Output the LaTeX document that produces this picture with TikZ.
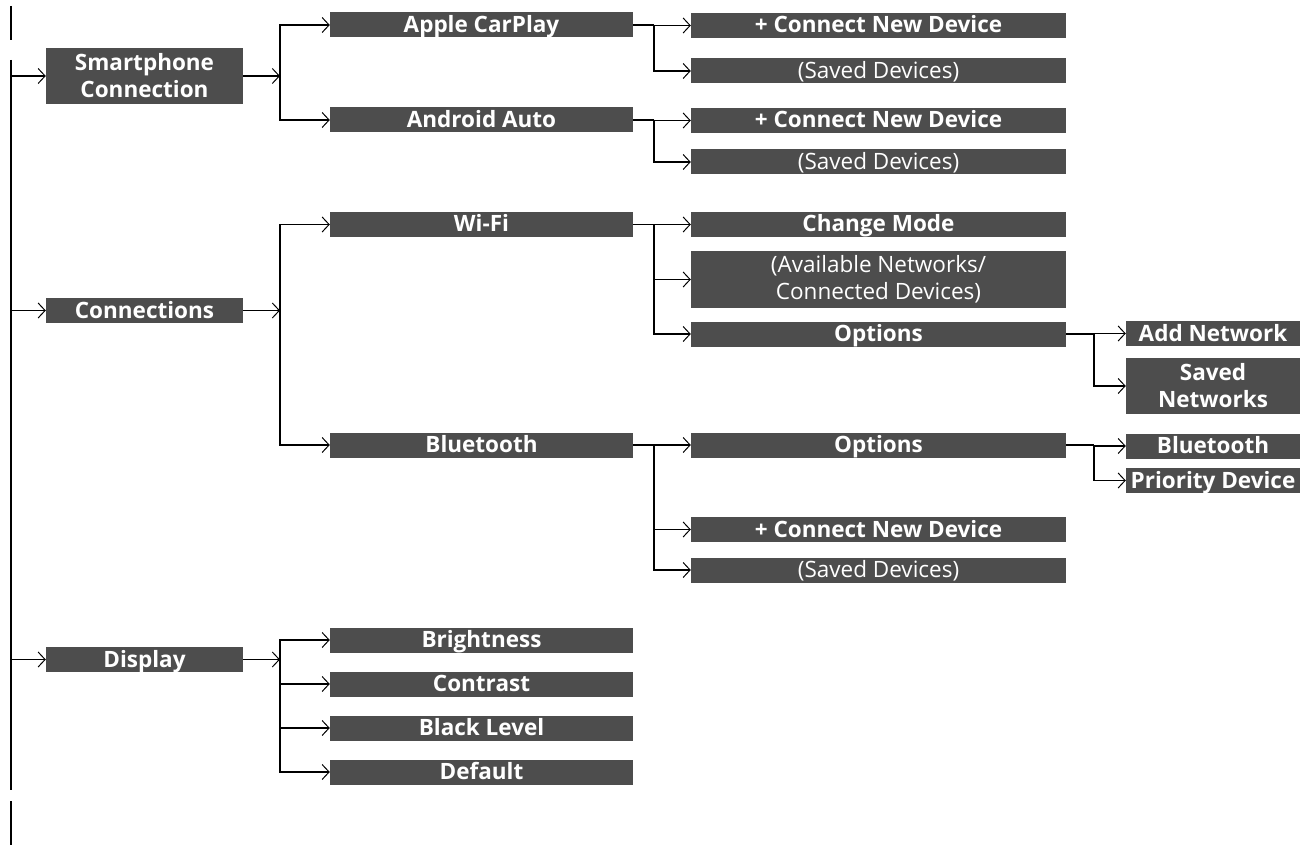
\documentclass[tikz,border=0pt]{standalone}
\usepackage{fontspec}
\setmainfont{Open Sans}
\usepackage{tikz}
\usetikzlibrary{arrows.meta, positioning, calc}

\definecolor{menugray}{RGB}{77,77,77}
\tikzset{
  menu/.style={fill=menugray, text=white, font=\fontsize{22.5}{27}\selectfont\bfseries,
    inner sep=0pt, minimum height=25, align=center, text height=15, text depth=0},
  twoline/.style={text height=, text depth=},
  lvlA/.style={menu, minimum width=197},
  lvlB/.style={menu, minimum width=303},
  lvlC/.style={menu, minimum width=375},
  lvlD/.style={menu, minimum width=174},
  plain/.style={font=\fontsize{22.5}{27}\selectfont\mdseries},
  link/.style={line width=1.4, -{Straight Barb[length=7,width=15,line width=1]}},
  edge/.style={line width=1.4}
}

\begin{document}
\begin{tikzpicture}[x=1pt, y=-1pt]
  \useasboundingbox (0,0) rectangle (1307,845);

  % page edge / spine
  \coordinate (spine) at (11,0);
  \draw[edge] (11,6) -- (11,40);
  \draw[edge] (11,60) -- (11,790);
  \draw[edge] (11,801) -- (11,845);

  % first level
  \node[lvlA, twoline, minimum height=56] (phone) at (144.5,76) {Smartphone\\Connection};
  \node[lvlA] (conn) at (144.5,310.5) {Connections};
  \node[lvlA] (disp) at (144.5,659.5) {Display};

  % second level
  \node[lvlB] (carplay) at (481.5,25) {Apple CarPlay};
  \node[lvlB] (android) at (481.5,120) {Android Auto};
  \node[lvlB] (wifi) at (481.5,224.5) {Wi-Fi};
  \node[lvlB] (bt) at (481.5,445) {Bluetooth};
  \node[lvlB] (bright) at (481.5,640) {Brightness};
  \node[lvlB] (contrast) at (481.5,684) {Contrast};
  \node[lvlB] (black) at (481.5,728) {Black Level};
  \node[lvlB] (default) at (481.5,772) {Default};

  % third level
  \node[lvlC] (cpnew) at (878.5,25.5) {+ Connect New Device};
  \node[lvlC, plain] (cpsaved) at (878.5,71) {(Saved Devices)};
  \node[lvlC] (aanew) at (878.5,120.5) {+ Connect New Device};
  \node[lvlC, plain] (aasaved) at (878.5,162) {(Saved Devices)};
  \node[lvlC] (mode) at (878.5,224.5) {Change Mode};
  \node[lvlC, plain, twoline, minimum height=57] (avail) at (878.5,279.5) {(Available Networks/\\Connected Devices)};
  \node[lvlC] (wopt) at (878.5,334) {Options};
  \node[lvlC] (btopt) at (878.5,445) {Options};
  \node[lvlC] (btnew) at (878.5,529.5) {+ Connect New Device};
  \node[lvlC, plain] (btsaved) at (878.5,570) {(Saved Devices)};

  % fourth level
  \node[lvlD] (addnet) at (1213,333.5) {Add Network};
  \node[lvlD, twoline, minimum height=56] (savednet) at (1213,386) {Saved\\Networks};
  \node[lvlD] (btbt) at (1213,446) {Bluetooth};
  \node[lvlD] (prio) at (1213,480.5) {Priority Device};

  % branch points
  \coordinate (phoneB) at (280,76);
  \coordinate (connB) at (280,310.5);
  \coordinate (dispB) at (280,659.5);
  \coordinate (carplayB) at (654,25);
  \coordinate (androidB) at (654,120);
  \coordinate (wifiB) at (654,224.5);
  \coordinate (btB) at (654,445);
  \coordinate (woptB) at (1094,334);
  \coordinate (btoptB) at (1094,445);

  % spine to first level
  \foreach \n in {phone, conn, disp}
    \draw[link] (spine |- \n.west) -- (\n.west);

  % first level to branch points
  \draw[link] (phone) -- (phoneB);
  \draw[link] (conn) -- (connB);
  \draw[link] (disp) -- (dispB);

  % trees
  \foreach \n in {carplay, android}
    \draw[link] (phoneB) |- (\n.west);
  \foreach \n in {wifi, bt}
    \draw[link] (connB) |- (\n.west);
  \foreach \n in {bright, contrast, black, default}
    \draw[link] (dispB) |- (\n.west);

  \draw[edge] (carplay) -- (carplayB);
  \foreach \n in {cpnew, cpsaved}
    \draw[link] (carplayB) |- (\n.west);
  \draw[edge] (android) -- (androidB);
  \foreach \n in {aanew, aasaved}
    \draw[link] (androidB) |- (\n.west);
  \draw[edge] (wifi) -- (wifiB);
  \foreach \n in {mode, avail, wopt}
    \draw[link] (wifiB) |- (\n.west);
  \draw[edge] (bt) -- (btB);
  \foreach \n in {btopt, btnew, btsaved}
    \draw[link] (btB) |- (\n.west);

  \draw[edge] (wopt) -- (woptB);
  \foreach \n in {addnet, savednet}
    \draw[link] (woptB) |- (\n.west);
  \draw[edge] (btopt) -- (btoptB);
  \foreach \n in {btbt, prio}
    \draw[link] (btoptB) |- (\n.west);
\end{tikzpicture}
\end{document}
